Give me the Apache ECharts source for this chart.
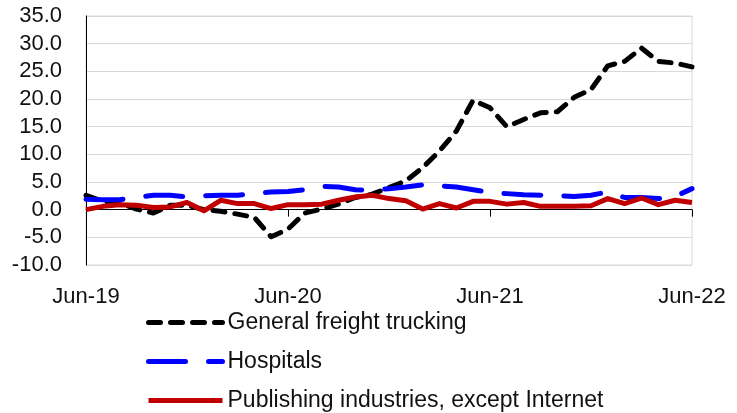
<!DOCTYPE html>
<html>
<head>
<meta charset="utf-8">
<script src="https://cdn.jsdelivr.net/npm/echarts@6/dist/echarts.min.js"></script>
<style>
  html, body { margin: 0; padding: 0; background: #fff; }
  #main { width: 737px; height: 413px; }
</style>
</head>
<body>
<div id="main"></div>
<script>
// monthly, Jun-19 .. Jun-22
var months = [
    'Jun-19', 'Jul-19', 'Aug-19', 'Sep-19', 'Oct-19', 'Nov-19', 'Dec-19',
    'Jan-20', 'Feb-20', 'Mar-20', 'Apr-20', 'May-20', 'Jun-20', 'Jul-20',
    'Aug-20', 'Sep-20', 'Oct-20', 'Nov-20', 'Dec-20', 'Jan-21', 'Feb-21',
    'Mar-21', 'Apr-21', 'May-21', 'Jun-21', 'Jul-21', 'Aug-21', 'Sep-21',
    'Oct-21', 'Nov-21', 'Dec-21', 'Jan-22', 'Feb-22', 'Mar-22', 'Apr-22',
    'May-22', 'Jun-22'
];
var tickLabels = ['Jun-19', 'Jun-20', 'Jun-21', 'Jun-22'];

var trucking = [
    2.6, 1.5, 1.2, 0.1, -0.6, 0.8, 0.8, 0.0, -0.3, -0.8, -1.4, -4.9, -3.5,
    -0.6, 0.1, 1.0, 2.2, 2.8, 4.0, 5.2, 7.6, 10.6, 14.2, 19.8, 18.4, 15.0,
    16.3, 17.5, 17.7, 20.3, 21.7, 26.0, 26.8, 29.2, 26.8, 26.5, 25.8
];
var hospitals = [
    1.9, 1.8, 1.8, 2.2, 2.6, 2.6, 2.3, 2.5, 2.6, 2.6, 2.9, 3.2, 3.3,
    3.6, 4.2, 4.1, 3.6, 3.5, 3.8, 4.1, 4.5, 4.3, 4.1, 3.6, 3.1, 2.9,
    2.7, 2.6, 2.5, 2.4, 2.6, 3.2, 2.2, 2.2, 2.0, 2.4, 3.8
];
var publishing = [
    0.0, 0.6, 0.9, 0.8, 0.4, 0.5, 1.3, -0.2, 1.7, 1.1, 1.1, 0.2, 0.9,
    0.9, 1.0, 1.7, 2.3, 2.6, 2.0, 1.6, 0.1, 1.1, 0.3, 1.5, 1.5, 1.0,
    1.3, 0.6, 0.6, 0.6, 0.7, 2.0, 1.1, 2.1, 0.9, 1.7, 1.3
];

var font = 'Liberation Sans';
var myChart = echarts.init(document.getElementById('main'));

myChart.setOption({
    animation: false,
    textStyle: { fontFamily: font },
    grid: {
        left: 86,
        right: 45,
        top: 16,
        bottom: 148,
        show: true,
        borderColor: '#d9d9d9',
        borderWidth: 1
    },
    legend: {
        orient: 'vertical',
        left: 146,
        top: 311,
        padding: 0,
        height: 102,
        itemWidth: 74,
        itemHeight: 22,
        itemGap: 16,
        itemStyle: { opacity: 0 },
        lineStyle: { width: 'inherit' },
        textStyle: { fontFamily: font, fontSize: 23, color: '#111', lineHeight: 22 },
        data: ['General freight trucking', 'Hospitals', 'Publishing industries, except Internet']
    },
    xAxis: [{
        type: 'category',
        data: months,
        boundaryGap: false,
        axisLine: { onZero: true, lineStyle: { color: '#000', width: 1 } },
        axisTick: { interval: 11, length: 7, lineStyle: { color: '#000' } },
        axisLabel: { show: false },
        splitLine: { show: false }
    }, {
        type: 'category',
        data: months,
        boundaryGap: false,
        position: 'bottom',
        axisLine: { show: false, onZero: false },
        axisTick: { show: false },
        axisLabel: {
            interval: 11,
            margin: 21,
            fontSize: 22,
            color: '#111',
            fontFamily: font,
            formatter: function (v) {
                return tickLabels.indexOf(v) >= 0 ? v : '';
            }
        },
        splitLine: { show: false }
    }],
    yAxis: {
        type: 'value',
        min: -10,
        max: 35,
        interval: 5,
        axisLine: { show: true, lineStyle: { color: '#000', width: 1 } },
        axisTick: { show: false },
        axisLabel: {
            margin: 24,
            fontSize: 22,
            color: '#111',
            fontFamily: font,
            formatter: function (v) { return v.toFixed(1); }
        },
        splitLine: { lineStyle: { color: '#d9d9d9', width: 1 } }
    },
    series: [{
        name: 'General freight trucking',
        type: 'line',
        data: trucking,
        symbol: 'none',
        lineStyle: { color: '#000', width: 5, type: [12, 10], cap: 'round', join: 'round' },
        itemStyle: { color: '#000' }
    }, {
        name: 'Hospitals',
        type: 'line',
        data: hospitals,
        symbol: 'none',
        lineStyle: { color: '#0000ff', width: 5, type: [37, 23], cap: 'round', join: 'round' },
        itemStyle: { color: '#0000ff' }
    }, {
        name: 'Publishing industries, except Internet',
        type: 'line',
        data: publishing,
        symbol: 'none',
        lineStyle: { color: '#c00000', width: 5, type: 'solid', join: 'round' },
        itemStyle: { color: '#c00000' }
    }]
});
</script>
</body>
</html>
